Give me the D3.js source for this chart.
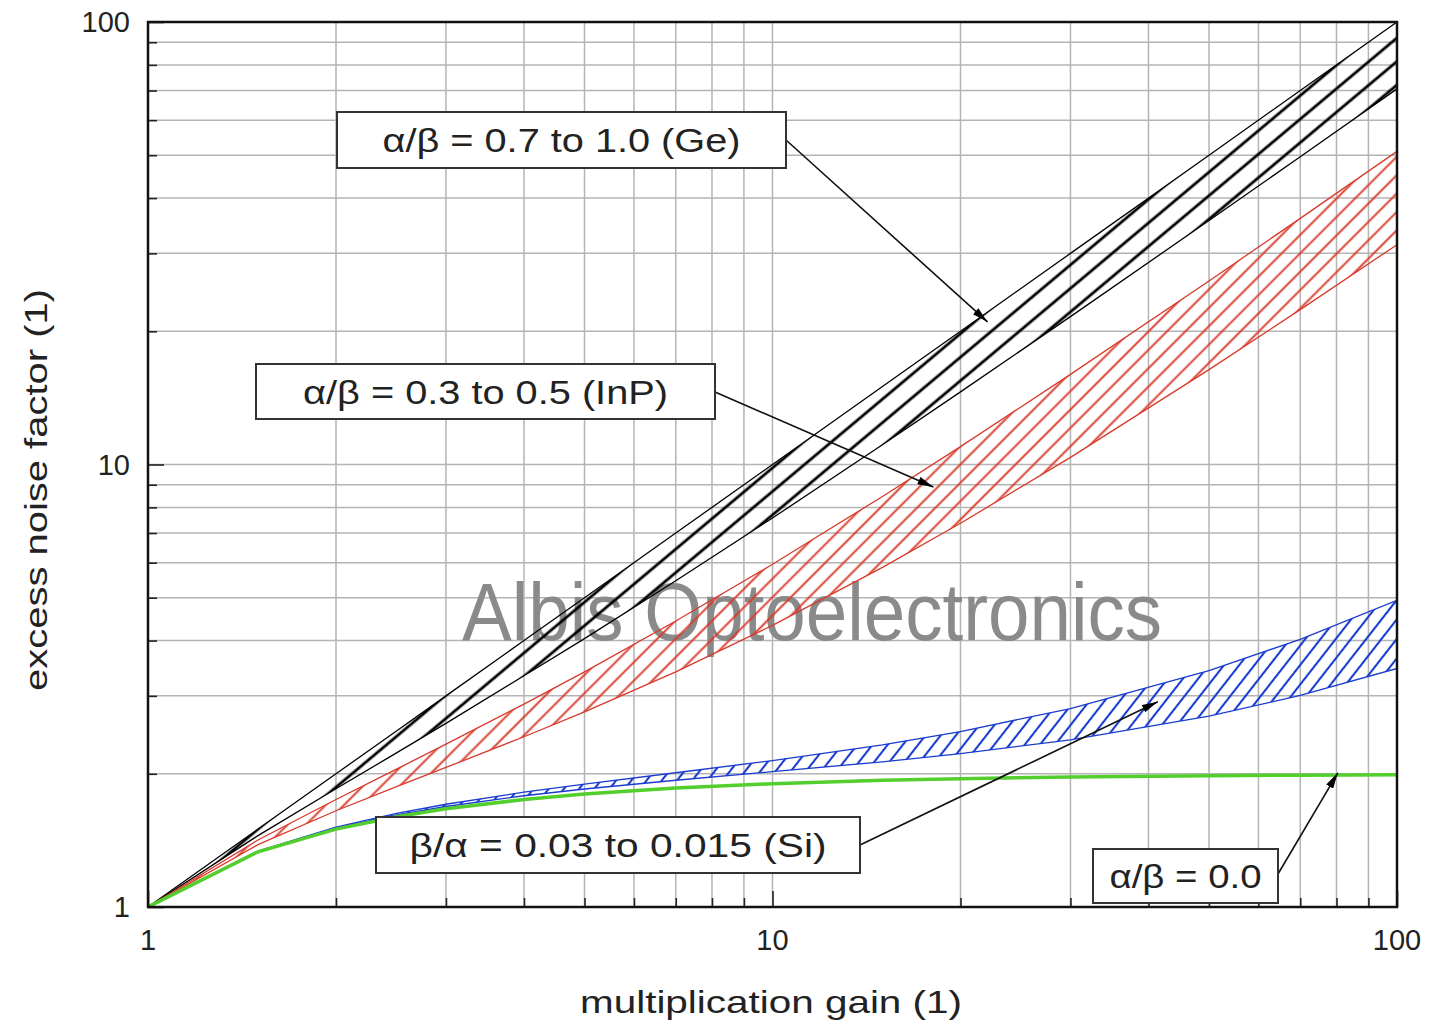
<!DOCTYPE html>
<html>
<head>
<meta charset="utf-8">
<script src="https://cdn.jsdelivr.net/npm/d3@7"></script>
<style>
  body { margin: 0; background: #fff; }
  svg { display: block; font-family: Arial, "Liberation Sans", sans-serif; }
</style>
</head>
<body>
<div id="container"></div>
<script>
// multiplication gain M (x values of every curve)
var gain = [1, 1.5, 2, 2.5, 3, 4, 5, 7, 10, 15, 20, 30, 50, 70, 100];

// excess noise factor, one array per boundary curve
var geUpper  = [1, 1.5, 2, 2.5, 3, 4, 5, 7, 10, 15, 20, 30, 50, 70, 100];
var geLower  = [1, 1.45, 1.85, 2.23, 2.6, 3.33, 4.04, 5.46, 7.57, 11.08, 14.59, 21.59, 35.59, 49.6, 70.6];
var inpUpper = [1, 1.417, 1.75, 2.05, 2.333, 2.875, 3.4, 4.429, 5.95, 8.467, 10.975, 15.983, 25.99, 35.99, 51.0];
var inpLower = [1, 1.383, 1.65, 1.87, 2.067, 2.425, 2.76, 3.4, 4.33, 5.853, 7.365, 10.377, 16.386, 22.39, 31.39];
var siUpper  = [1, 1.338, 1.515, 1.627, 1.707, 1.818, 1.896, 2.011, 2.143, 2.325, 2.492, 2.808, 3.421, 4.026, 4.93];
var siLower  = [1, 1.336, 1.508, 1.614, 1.687, 1.784, 1.848, 1.934, 2.022, 2.129, 2.221, 2.387, 2.70, 3.006, 3.46];
var zeroK    = [1, 1.333, 1.5, 1.6, 1.667, 1.75, 1.8, 1.857, 1.9, 1.933, 1.95, 1.967, 1.98, 1.986, 1.99];

// axis tick labels
var xTickLabels = [1, 10, 100];
var yTickLabels = [1, 10, 100];

// callout texts and where their arrows point (gain, noise factor)
var calloutTexts = ['α/β = 0.7 to 1.0 (Ge)', 'α/β = 0.3 to 0.5 (InP)', 'β/α = 0.03 to 0.015 (Si)', 'α/β = 0.0'];
var calloutTargets = [[22.1, 21.0], [18.1, 8.9], [41.4, 2.91], [80.4, 2.01]];

/*-------------------------------------------------------------------------------------*/
var W = 1429, H = 1025;
var margin = { left: 148, right: 32, top: 22, bottom: 118 };

var svg = d3.select('#container').append('svg')
  .attr('width', W)
  .attr('height', H);

var x = d3.scaleLog().domain([1, 100]).range([margin.left, W - margin.right]);
var y = d3.scaleLog().domain([1, 100]).range([H - margin.bottom, margin.top]);

var defs = svg.append('defs');
defs.append('clipPath').attr('id', 'plot-clip')
  .append('rect')
  .attr('x', x(1)).attr('y', y(100))
  .attr('width', x(100) - x(1)).attr('height', y(1) - y(100));

// hatch patterns: spacing, rotation, stroke
function hatch(id, color, spacing, rot, sw) {
  defs.append('pattern')
    .attr('id', id)
    .attr('patternUnits', 'userSpaceOnUse')
    .attr('width', spacing).attr('height', spacing)
    .attr('patternTransform', 'rotate(' + rot + ')')
    .append('line')
    .attr('x1', spacing / 2).attr('x2', spacing / 2)
    .attr('y1', -1).attr('y2', spacing + 1)
    .attr('stroke', color)
    .attr('stroke-width', sw);
}
hatch('hatch-ge', '#000', 18, 50, 2.8);
hatch('hatch-inp', '#d8392a', 13, 45, 1.9);
hatch('hatch-si', '#1a3ccf', 12, 38, 2.1);

defs.append('marker')
  .attr('id', 'arrow')
  .attr('markerUnits', 'userSpaceOnUse')
  .attr('viewBox', '0 0 16 8')
  .attr('refX', 16).attr('refY', 4)
  .attr('markerWidth', 16).attr('markerHeight', 8)
  .attr('orient', 'auto')
  .append('path')
  .attr('d', 'M0,0 L16,4 L0,8 Z')
  .attr('fill', '#000');

// grid
var grid = svg.append('g');
grid.selectAll('.vg')
  .data(x.ticks())
  .join('line')
  .attr('x1', d => x(d)).attr('x2', d => x(d))
  .attr('y1', y(1)).attr('y2', y(100))
  .attr('stroke', '#b4b4b4').attr('stroke-width', 1.5);
grid.selectAll('.hg')
  .data(y.ticks())
  .join('line')
  .attr('y1', d => y(d)).attr('y2', d => y(d))
  .attr('x1', x(1)).attr('x2', x(100))
  .attr('stroke', '#b4b4b4').attr('stroke-width', 1.5);

// watermark
svg.append('text')
  .attr('x', 462).attr('y', 640)
  .attr('font-size', 82)
  .attr('fill', '#8a8a8a')
  .attr('textLength', 700)
  .attr('lengthAdjust', 'spacingAndGlyphs')
  .text('Albis Optoelectronics');

// bands
var plot = svg.append('g').attr('clip-path', 'url(#plot-clip)');

var bands = [
  { upper: geUpper, lower: geLower, pat: 'hatch-ge', color: '#000' },
  { upper: inpUpper, lower: inpLower, pat: 'hatch-inp', color: '#d8392a' },
  { upper: siUpper, lower: siLower, pat: 'hatch-si', color: '#1a3ccf' }
];

var idx = d3.range(gain.length);

bands.forEach(b => {
  var area = d3.area()
    .x(i => x(gain[i]))
    .y0(i => y(b.lower[i]))
    .y1(i => y(b.upper[i]));
  plot.append('path')
    .attr('d', area(idx))
    .attr('fill', 'url(#' + b.pat + ')');
  [b.upper, b.lower].forEach(s => {
    plot.append('path')
      .attr('d', d3.line().x(i => x(gain[i])).y(i => y(s[i]))(idx))
      .attr('fill', 'none')
      .attr('stroke', b.color)
      .attr('stroke-width', 1.3);
  });
});

plot.append('path')
  .attr('d', d3.line().x(i => x(gain[i])).y(i => y(zeroK[i]))(idx))
  .attr('fill', 'none')
  .attr('stroke', '#52cf2c')
  .attr('stroke-width', 3.5);

// axes
var axisG = svg.append('g');
axisG.append('g')
  .attr('transform', `translate(0,${y(1)})`)
  .call(d3.axisBottom(x).tickSizeInner(-9).tickSizeOuter(0).tickFormat(''))
  .call(g => g.selectAll('.tick line').filter(d => xTickLabels.indexOf(d) >= 0).attr('y2', -16));
axisG.append('g')
  .attr('transform', `translate(${x(1)},0)`)
  .call(d3.axisLeft(y).tickSizeInner(-9).tickSizeOuter(0).tickFormat(''))
  .call(g => g.selectAll('.tick line').filter(d => yTickLabels.indexOf(d) >= 0).attr('x2', 16));
axisG.selectAll('.tick line').attr('stroke', '#222').attr('stroke-width', 1.6);
axisG.selectAll('.domain').remove();

svg.append('rect')
  .attr('x', x(1)).attr('y', y(100))
  .attr('width', x(100) - x(1)).attr('height', y(1) - y(100))
  .attr('fill', 'none')
  .attr('stroke', '#111')
  .attr('stroke-width', 2.5);

svg.append('g').selectAll('text')
  .data(xTickLabels)
  .join('text')
  .attr('x', d => x(d)).attr('y', y(1) + 43)
  .attr('text-anchor', 'middle')
  .attr('font-size', 29)
  .attr('fill', '#222')
  .text(d => d);

svg.append('g').selectAll('text')
  .data(yTickLabels)
  .join('text')
  .attr('x', x(1) - 18).attr('y', d => y(d) + 10)
  .attr('text-anchor', 'end')
  .attr('font-size', 29)
  .attr('fill', '#222')
  .text(d => d);

svg.append('text')
  .attr('x', 771).attr('y', 1013)
  .attr('text-anchor', 'middle')
  .attr('font-size', 32)
  .attr('fill', '#222')
  .attr('textLength', 382)
  .attr('lengthAdjust', 'spacingAndGlyphs')
  .text('multiplication gain (1)');

svg.append('text')
  .attr('transform', 'translate(47,490) rotate(-90)')
  .attr('text-anchor', 'middle')
  .attr('font-size', 32)
  .attr('fill', '#222')
  .attr('textLength', 402)
  .attr('lengthAdjust', 'spacingAndGlyphs')
  .text('excess noise factor (1)');

// callouts: box rect, text width, line start
var boxes = [
  { x: 337, y: 112, w: 449, h: 56, tw: 358, sx: 786, sy: 140 },
  { x: 256, y: 364, w: 459, h: 55, tw: 365, sx: 715, sy: 392 },
  { x: 376, y: 817, w: 484, h: 56, tw: 417, sx: 860, sy: 845 },
  { x: 1093, y: 849, w: 185, h: 54, tw: 152, sx: 1278, sy: 874 }
];

var callouts = svg.append('g');
boxes.forEach((b, i) => {
  var t = calloutTargets[i];
  callouts.append('line')
    .attr('x1', b.sx).attr('y1', b.sy)
    .attr('x2', x(t[0])).attr('y2', y(t[1]))
    .attr('stroke', '#111')
    .attr('stroke-width', 1.6)
    .attr('marker-end', 'url(#arrow)');
  callouts.append('rect')
    .attr('x', b.x).attr('y', b.y)
    .attr('width', b.w).attr('height', b.h)
    .attr('fill', '#fff')
    .attr('stroke', '#333')
    .attr('stroke-width', 2);
  callouts.append('text')
    .attr('x', b.x + b.w / 2).attr('y', b.y + b.h / 2 + 12)
    .attr('text-anchor', 'middle')
    .attr('font-size', 33)
    .attr('fill', '#222')
    .attr('textLength', b.tw)
    .attr('lengthAdjust', 'spacingAndGlyphs')
    .text(calloutTexts[i]);
});
</script>
</body>
</html>
